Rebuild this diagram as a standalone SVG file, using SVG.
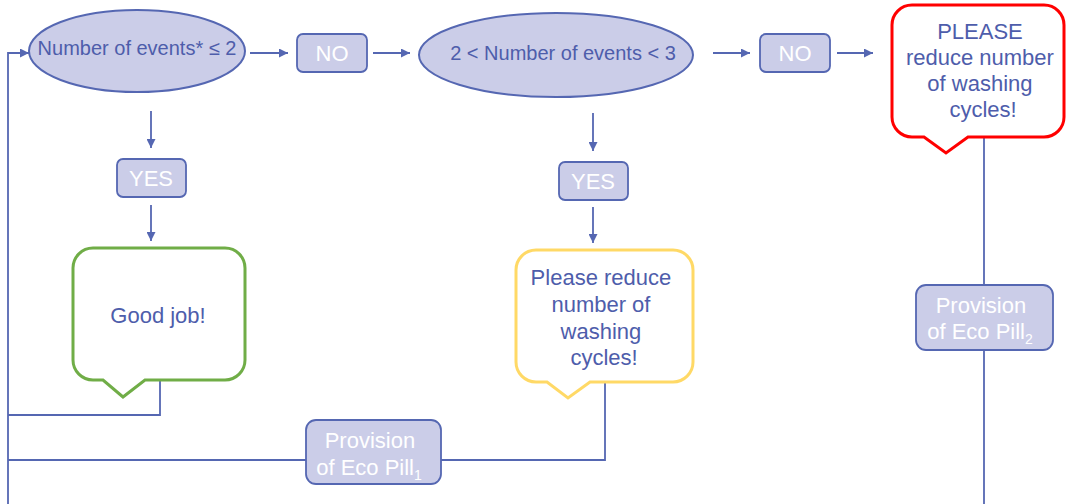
<svg xmlns="http://www.w3.org/2000/svg" width="1066" height="504" viewBox="0 0 1066 504">
  <style>
    .txt { font-family: "Liberation Sans", Arial, sans-serif; fill: #4E5DAB; text-anchor: middle; }
    .wt { font-family: "Liberation Sans", Arial, sans-serif; fill: #FFFFFF; text-anchor: middle; font-size: 22px; }
    .cond { fill: #CBCDE8; stroke: #5567B2; stroke-width: 2; }
    .box { fill: #CBCDE8; stroke: #5567B2; stroke-width: 1.8; }
    .wire { fill: none; stroke: #5567B2; stroke-width: 1.8; }
    .callout { fill: #FFFFFF; stroke-width: 3; stroke-linejoin: miter; }
  </style>
  <defs>
    <marker id="arr" viewBox="0 0 10 10" refX="10" refY="5" markerWidth="5" markerHeight="5" orient="auto" markerUnits="strokeWidth">
      <path d="M0,0 L10,5 L0,10 Z" fill="#5567B2"/>
    </marker>
  </defs>

  <!-- connectors -->
  <g id="connectors">
    <path class="wire" d="M8,504 V53 H29" marker-end="url(#arr)"/>
    <path class="wire" d="M250,53 H288" marker-end="url(#arr)"/>
    <path class="wire" d="M373,53 H410" marker-end="url(#arr)"/>
    <path class="wire" d="M713,53 H750" marker-end="url(#arr)"/>
    <path class="wire" d="M837,53 H873" marker-end="url(#arr)"/>
    <path class="wire" d="M151,111 V148" marker-end="url(#arr)"/>
    <path class="wire" d="M151,205 V241" marker-end="url(#arr)"/>
    <path class="wire" d="M593,113 V151" marker-end="url(#arr)"/>
    <path class="wire" d="M593,207 V243" marker-end="url(#arr)"/>
    <path class="wire" d="M160,380 V415 H8"/>
    <path class="wire" d="M605,382 V460 H441"/>
    <path class="wire" d="M306,460 H8"/>
    <path class="wire" d="M984,138 V285"/>
    <path class="wire" d="M984,350 V504"/>
  </g>

  <!-- condition 1 -->
  <g id="cond1">
    <ellipse class="cond" cx="137" cy="51" rx="108" ry="41"/>
    <text class="txt" x="137" y="55" font-size="20">Number of events* ≤ 2</text>
  </g>

  <!-- NO after condition 1 -->
  <g id="no1">
    <rect class="box" x="297" y="34" width="70" height="38" rx="6"/>
    <text class="wt" x="332" y="61">NO</text>
  </g>

  <!-- condition 2 -->
  <g id="cond2">
    <ellipse class="cond" cx="556" cy="55" rx="137" ry="42"/>
    <text class="txt" x="563" y="60" font-size="20">2 &lt; Number of events &lt; 3</text>
  </g>

  <!-- NO after condition 2 -->
  <g id="no2">
    <rect class="box" x="760" y="34" width="70" height="38" rx="6"/>
    <text class="wt" x="795" y="61">NO</text>
  </g>

  <!-- YES branch 1 -->
  <g id="yes1">
    <rect class="box" x="117" y="159" width="69" height="38" rx="6"/>
    <text class="wt" x="151" y="186">YES</text>
  </g>

  <!-- YES branch 2 -->
  <g id="yes2">
    <rect class="box" x="559" y="162" width="69" height="38" rx="6"/>
    <text class="wt" x="593" y="189">YES</text>
  </g>

  <!-- green feedback bubble -->
  <g id="good">
    <path class="callout" stroke="#70AD47" d="M93,248 H225 A20,20 0 0 1 245,268 V360 A20,20 0 0 1 225,380 H145 L123,397 L103,380 H93 A20,20 0 0 1 73,360 V268 A20,20 0 0 1 93,248 Z"/>
    <text class="txt" x="158" y="323" font-size="22">Good job!</text>
  </g>

  <!-- yellow feedback bubble -->
  <g id="warn">
    <path class="callout" stroke="#FFD966" d="M536,250 H673 A20,20 0 0 1 693,270 V362 A20,20 0 0 1 673,382 H590 L568,398 L547,382 H536 A20,20 0 0 1 516,362 V270 A20,20 0 0 1 536,250 Z"/>
    <text class="txt" font-size="22">
      <tspan x="604" y="285">Please reduce</tspan>
      <tspan x="604" y="312">number of</tspan>
      <tspan x="604" y="339">washing</tspan>
      <tspan x="604" y="365">cycles!</tspan>
    </text>
  </g>

  <!-- red feedback bubble -->
  <g id="alert">
    <path class="callout" stroke="#FF0000" stroke-width="3.5" d="M912,5 H1044 A20,20 0 0 1 1064,25 V117 A20,20 0 0 1 1044,137 H968 L946,153 L924,137 H912 A20,20 0 0 1 892,117 V25 A20,20 0 0 1 912,5 Z"/>
    <text class="txt" font-size="22">
      <tspan x="983" y="39">PLEASE</tspan>
      <tspan x="983" y="65">reduce number</tspan>
      <tspan x="983" y="91">of washing</tspan>
      <tspan x="983" y="117">cycles!</tspan>
    </text>
  </g>

  <!-- Eco Pill provision 1 -->
  <g id="pill1">
    <rect class="box" x="306" y="420" width="135" height="64" rx="10"/>
    <text class="wt">
      <tspan x="373" y="448">Provision</tspan>
      <tspan x="369" y="475">of Eco Pill<tspan font-size="14" dy="5">1</tspan></tspan>
    </text>
  </g>

  <!-- Eco Pill provision 2 -->
  <g id="pill2">
    <rect class="box" x="916" y="285" width="137" height="65" rx="10"/>
    <text class="wt">
      <tspan x="984" y="313">Provision</tspan>
      <tspan x="980" y="339">of Eco Pill<tspan font-size="14" dy="5">2</tspan></tspan>
    </text>
  </g>
</svg>
